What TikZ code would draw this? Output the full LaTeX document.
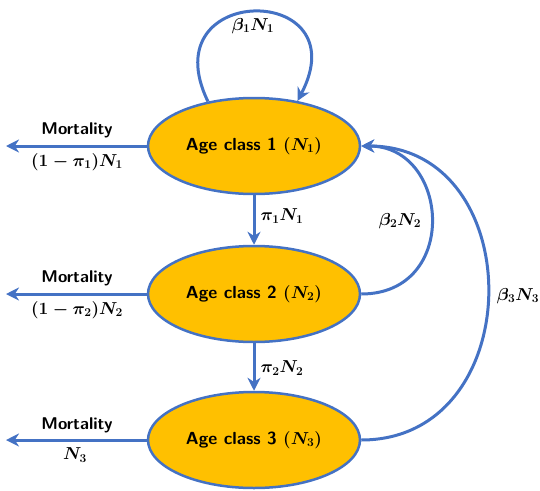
\documentclass[tikz,border=0pt]{standalone}
\usetikzlibrary{arrows.meta,shapes.geometric}
\definecolor{lineblue}{HTML}{4472C4}
\definecolor{boxgold}{HTML}{FFC000}
\begin{document}
\begin{tikzpicture}[x=1pt,y=-1pt,
  agebox/.style={ellipse,draw=lineblue,fill=boxgold,line width=2.5pt,minimum width=212pt,minimum height=96pt,inner sep=0pt,font=\fontsize{17.5}{20}\selectfont\sffamily\bfseries\boldmath},
  flow/.style={draw=lineblue,line width=3pt,-{Stealth[length=13pt,width=13pt]}},
  lbl/.style={font=\fontsize{17}{20}\selectfont\bfseries\boldmath,inner sep=1pt},
  mort/.style={font=\fontsize{17}{20}\selectfont\sffamily\bfseries,inner sep=1pt}]
\useasboundingbox (0,0) rectangle (540,490);
\node[agebox] (n1) at (254,146) {Age class 1 $(N_1)$};
\node[agebox] (n2) at (254,294) {Age class 2 $(N_2)$};
\node[agebox] (n3) at (254,440) {Age class 3 $(N_3)$};
\coordinate (m1) at (6,146);
\coordinate (m2) at (6,294);
\coordinate (m3) at (6,440);
\draw[flow] (n1.west) -- (m1);
\draw[flow] (n2.west) -- (m2);
\draw[flow] (n3.west) -- (m3);
\node[mort] (t1) at (77,130) {Mortality};
\node[mort] (t2) at (77,278) {Mortality};
\node[mort] (t3) at (77,425) {Mortality};
\node[lbl] (f1) at (77,162) {$(1-\pi_1)N_1$};
\node[lbl] (f2) at (77,310) {$(1-\pi_2)N_2$};
\node[lbl] (f3) at (75,455) {$N_3$};
\draw[flow] (n1.south) -- (n2.north);
\draw[flow] (n2.south) -- (n3.north);
\node[lbl] (p1) at (282,216) {$\pi_1N_1$};
\node[lbl] (p2) at (282,368) {$\pi_2N_2$};
\draw[flow] (n1.136) .. controls (150,-18) and (360,-18) .. (n1.46);
\node[lbl] (b1) at (253,26) {$\beta_1N_1$};
\draw[flow] (n2.east) .. controls (460,294) and (450,146) .. (n1.east);
\draw[flow] (n3.east) .. controls (530,440) and (530,146) .. (n1.east);
\node[lbl] (b2) at (400,221) {$\beta_2N_2$};
\node[lbl] (b3) at (518,296) {$\beta_3N_3$};
\end{tikzpicture}
\end{document}
